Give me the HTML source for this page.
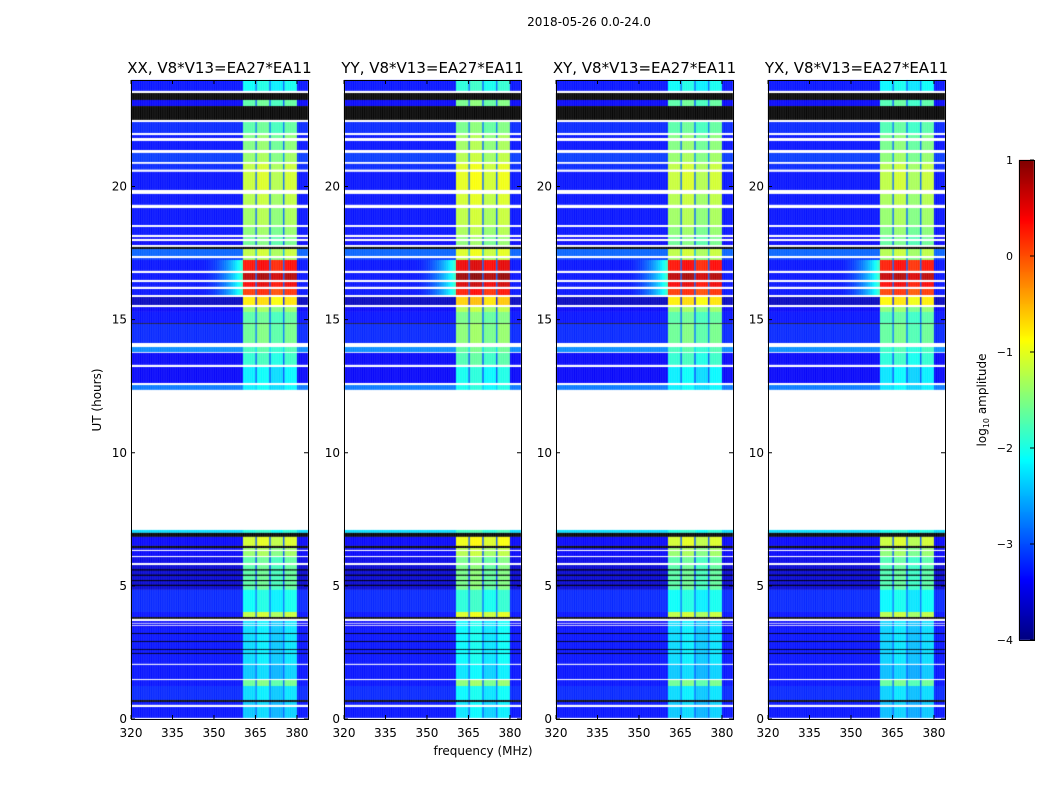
<!DOCTYPE html>
<html><head><meta charset="utf-8">
<style>
body{margin:0;background:#fff;}
#root{position:relative;width:1050px;height:800px;overflow:hidden;font-family:"DejaVu Sans","Liberation Sans",sans-serif;}
canvas{position:absolute;}
svg{position:absolute;left:0;top:0;font-family:"DejaVu Sans","Liberation Sans",sans-serif;}
</style></head>
<body>
<div id="root">
<svg id="ov" width="1050" height="800"></svg>
</div>
<script>
const freqMin=320, freqMax=384, hMin=0, hMax=24;
const panelNames=["XX, V8*V13=EA27*EA11","YY, V8*V13=EA27*EA11","XY, V8*V13=EA27*EA11","YX, V8*V13=EA27*EA11"];
const panelBandOffset=[0,0.15,0,-0.05];
const subbands=[[360.5,365],[365.5,370],[370.5,375],[375.5,380]];
const subbandOffset=[0,0.1,-0.1,0.05];
const xTicks=[320,335,350,365,380];
const yTicks=[0,5,10,15,20];
const cbTicks=[1,0,-1,-2,-3,-4];
const cbTickLabels=["1","0","\u22121","\u22122","\u22123","\u22124"];
// [hourStart, hourEnd, backgroundLog, bandLog, hot]  null = flagged (white), -9 = zero (black)
const segments=[
[23.59,24.00,-3.3,-2.1],[23.51,23.59,null,null],[23.25,23.51,-9,-9],[23.02,23.25,-3.4,-1.7],
[22.50,23.02,-9,-9],[22.42,22.50,null,null],[22.01,22.42,-3.2,-1.7],[21.93,22.01,null,null],
[21.82,21.93,-3.3,-1.5],[21.71,21.82,null,null],[21.37,21.71,-3.3,-1.5],[21.26,21.37,null,null],
[20.92,21.26,-3.1,-1.4],[20.85,20.92,null,null],[20.63,20.85,-3.2,-1.2],[20.55,20.63,null,null],
[19.87,20.55,-3.3,-1.15],[19.72,19.87,null,null],[19.31,19.72,-3.3,-1.25],[19.19,19.31,null,null],
[18.55,19.19,-3.3,-1.35],[18.48,18.55,null,null],[18.18,18.48,-3.3,-1.45],[18.10,18.18,null,null],
[18.03,18.10,-3.4,-1.6],[17.95,18.03,null,null],[17.80,17.95,-3.4,-1.6],[17.73,17.80,null,null],
[17.65,17.73,-9,-9],[17.39,17.65,-2.9,-1.2],[17.31,17.39,null,null],[17.24,17.31,-3.1,-1.4],
[16.83,17.24,-3.3,0.3,1],[16.75,16.83,null,null],[16.49,16.75,-3.3,0.7,1],[16.41,16.49,null,null],
[16.23,16.41,-3.3,0.4,1],[16.15,16.23,null,null],[15.92,16.15,-3.3,0.1,1],[15.85,15.92,null,null],
[15.55,15.85,-3.7,-0.8],[15.47,15.55,null,null],[15.29,15.47,-3.4,-1.4],[14.87,15.29,-3.3,-1.7],
[14.84,14.87,-9,-9],[14.12,14.84,-3.2,-1.6],[13.97,14.12,null,null],[13.78,13.97,-2.7,-1.8],
[13.75,13.78,null,null],[13.30,13.75,-3.4,-1.9],[13.22,13.30,null,null],[12.62,13.22,-3.4,-2.2],
[12.54,12.62,null,null],[12.36,12.54,-2.8,-2.2],[7.10,12.36,null,null],[6.99,7.10,-2.3,-2.0],
[6.84,6.99,-9,-9],[6.50,6.84,-3.4,-1.1],[6.42,6.50,-9,-9],[6.35,6.42,-3.4,-1.4],
[6.31,6.35,null,null],[6.12,6.31,-3.4,-1.4],[6.08,6.12,null,null],[5.86,6.08,-3.5,-1.7],
[5.78,5.86,null,null],[4.85,5.78,-3.6,-1.7],[4.02,4.85,-3.2,-2.1],[3.83,4.02,-3.3,-1.2],
[3.76,3.83,-9,-9],[3.68,3.76,null,null],[3.42,3.68,-3.4,-2.3],[2.07,3.42,-3.3,-2.3],
[2.03,2.07,null,null],[1.50,2.03,-3.3,-2.4],[1.46,1.50,null,null],[1.24,1.46,-3.3,-1.6],
[0.71,1.24,-3.2,-2.3],[0.64,0.71,-9,-9],[0.53,0.64,-3.3,-2.4],[0.45,0.53,null,null],
[0.04,0.45,-3.3,-2.4],[0.00,0.04,null,null],
[5.58,5.62,-9,-9],[5.38,5.42,-9,-9],[5.18,5.22,-9,-9],[5.00,5.04,-9,-9],
[3.58,3.61,null,null],[3.50,3.53,null,null],
[3.20,3.23,-9,-9],[2.90,2.93,-9,-9],[2.60,2.63,-9,-9],[2.45,2.48,-9,-9]
];

const panelLeft=[131,344,556,768], panelW=177, panelTop=80, panelBot=719;
const cbX=1019, cbW=15, cbTop=160, cbBot=640, vMin=-4, vMax=1;
function xScale(f,L){return L+(f-freqMin)/(freqMax-freqMin)*panelW;}
function yScale(h){return panelBot-(h-hMin)/(hMax-hMin)*(panelBot-panelTop);}
function cbScale(v){return cbBot-(v-vMin)/(vMax-vMin)*(cbBot-cbTop);}
function clamp(x){return Math.max(0,Math.min(1,x));}
function jet(v){
  if(v<=-9) return "rgb(0,0,0)";
  const t=clamp((v-vMin)/(vMax-vMin));
  const r=clamp(1.5-Math.abs(4*t-3)),g=clamp(1.5-Math.abs(4*t-2)),b=clamp(1.5-Math.abs(4*t-1));
  return "rgb("+Math.round(r*255)+","+Math.round(g*255)+","+Math.round(b*255)+")";
}
function cellValue(f,seg,p){
  const bg=seg[2], band=seg[3];
  if(bg===-9) return -9;
  for(let i=0;i<subbands.length;i++){
    if(f>=subbands[i][0]&&f<subbands[i][1]) return band+subbandOffset[i]+panelBandOffset[p];
  }
  if(f>=subbands[0][0]&&f<subbands[subbands.length-1][1]) return bg+0.4;
  if(seg[4]&&f>=345&&f<subbands[0][0]){
    const r=(f-345)/(subbands[0][0]-345);
    return bg+(-1.8-bg)*r*r;
  }
  return bg;
}
const root=document.getElementById('root');
const ov=document.getElementById('ov');
const NS="http://www.w3.org/2000/svg";
function mk(tag,attrs,txt){const e=document.createElementNS(NS,tag);for(const k in attrs)e.setAttribute(k,attrs[k]);if(txt!==undefined)e.textContent=txt;ov.appendChild(e);return e;}

const step=0.25;
panelLeft.forEach((L,p)=>{
  const c=document.createElement('canvas');
  c.width=1050;c.height=800;c.style.left='0px';c.style.top='0px';
  
  
  root.insertBefore(c,ov);
  const ctx=c.getContext('2d');
  segments.forEach(seg=>{
    const y0=yScale(seg[1]), y1=yScale(seg[0]);
    if(seg[2]===null){ctx.fillStyle='#fff';ctx.fillRect(L,y0,panelW,y1-y0);return;}
    for(let f=freqMin;f<freqMax;f+=step){
      const x0=xScale(f,L),x1=xScale(f+step,L);
      ctx.fillStyle=jet(cellValue(f+step/2,seg,p));
      ctx.fillRect(x0,y0,x1-x0+0.3,y1-y0);
    }
  });
  const fr=mk('rect',{x:L+0.5,y:panelTop+0.5,width:panelW,height:panelBot-panelTop,fill:'none',stroke:'#000','stroke-width':1});
  
  
  const t=mk('text',{x:L+panelW/2,y:73,'font-size':15,'text-anchor':'middle',fill:'#000'},panelNames[p]);
  
  
  xTicks.forEach(v=>{
    const x=xScale(v,L);
    mk('line',{x1:x,x2:x,y1:panelBot,y2:panelBot-4,stroke:'#000'});
    mk('line',{x1:x,x2:x,y1:panelTop,y2:panelTop+4,stroke:'#000'});
    const tl=mk('text',{x:x,y:737,'font-size':12,'text-anchor':'middle',fill:'#000'},String(v));
    
    
  });
  yTicks.forEach(v=>{
    const y=yScale(v);
    mk('line',{x1:L,x2:L+4,y1:y,y2:y,stroke:'#000'});
    mk('line',{x1:L+panelW,x2:L+panelW-4,y1:y,y2:y,stroke:'#000'});
    const tl=mk('text',{x:L-4,y:y+4,'font-size':12,'text-anchor':'end',fill:'#000'},String(v));
    
    
  });
});
const cc=document.createElement('canvas');
cc.width=1050;cc.height=800;cc.style.left='0px';cc.style.top='0px';


root.insertBefore(cc,ov);
const cx=cc.getContext('2d');
for(let y=cbTop;y<cbBot;y++){
  const v=vMax-(y-cbTop+0.5)/(cbBot-cbTop)*(vMax-vMin);
  cx.fillStyle=jet(v);cx.fillRect(cbX,y,cbW,1);
}
mk('rect',{x:cbX+0.5,y:cbTop+0.5,width:cbW,height:cbBot-cbTop,fill:'none',stroke:'#000'});
cbTicks.forEach((v,i)=>{
  const y=cbScale(v);
  mk('line',{x1:cbX+cbW-4,x2:cbX+cbW,y1:y,y2:y,stroke:'#000'});
  const tl=mk('text',{x:1013,y:y+4,'font-size':11,'text-anchor':'end',fill:'#000'},cbTickLabels[i]);
  
  
});
const cbl=mk('text',{x:0,y:0,'font-size':12,'text-anchor':'middle',fill:'#000',transform:'translate(986,400) rotate(-90)'});


cbl.innerHTML='log<tspan font-size="8" dy="3">10</tspan><tspan dy="-3"> amplitude</tspan>';
const st=mk('text',{x:589,y:26,'font-size':12,'text-anchor':'middle',fill:'#000'},'2018-05-26 0.0-24.0');


const yl=mk('text',{x:0,y:0,'font-size':12,'text-anchor':'middle',fill:'#000',transform:'translate(101,400) rotate(-90)'},'UT (hours)');


const xl=mk('text',{x:483,y:755,'font-size':12,'text-anchor':'middle',fill:'#000'},'frequency (MHz)');


</script>
</body></html>
